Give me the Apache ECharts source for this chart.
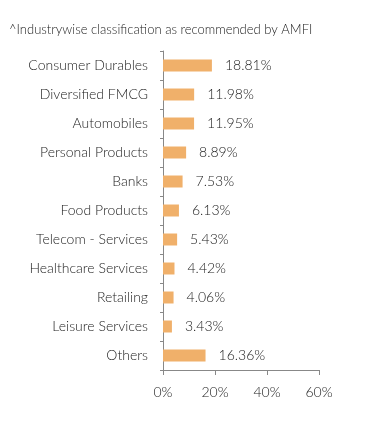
<!DOCTYPE html>
<html><head><meta charset="utf-8">
<script src="https://cdn.jsdelivr.net/npm/echarts@6/dist/echarts.min.js"></script>
<style>html,body{margin:0;padding:0;background:#fff}#c{width:391px;height:424px}</style>
</head><body><div id="c"></div>
<script>
const categories = ["Consumer Durables","Diversified FMCG","Automobiles","Personal Products","Banks","Food Products","Telecom - Services","Healthcare Services","Retailing","Leisure Services","Others"];
const values = [18.81,11.98,11.95,8.89,7.53,6.13,5.43,4.42,4.06,3.43,16.36];
const xTicks = [0,20,40,60];
const titleText = "^Industrywise classification as recommended by AMFI";

const FONT = 'Lato';
const chart = echarts.init(document.getElementById('c'), null, {renderer:'canvas'});
chart.setOption({
  animation:false,
  title:{text:titleText,left:4,top:18,textStyle:{fontFamily:FONT,fontSize:13,fontWeight:300,color:'#222'}},
  grid:{left:163,right:72,top:51,bottom:54,containLabel:false},
  xAxis:{type:'value',min:xTicks[0],max:xTicks[xTicks.length-1],interval:20,
    axisLine:{show:true,lineStyle:{color:'#888'}},
    axisTick:{show:true,length:5,lineStyle:{color:'#888'}},
    splitLine:{show:false},
    axisLabel:{formatter:v=>v+'%',fontFamily:FONT,fontSize:14,fontWeight:300,color:'#222',margin:15}},
  yAxis:{type:'category',data:categories,inverse:true,
    axisLine:{show:true,lineStyle:{color:'#888'}},
    axisTick:{show:true,length:3,lineStyle:{color:'#888'}},
    axisLabel:{fontFamily:FONT,fontSize:14,fontWeight:300,color:'#222',margin:15}},
  series:[{type:'bar',data:values,barWidth:12,itemStyle:{color:'#F0B06A'},
    label:{show:true,position:'right',distance:13,formatter:p=>p.value.toFixed(2)+'%',fontFamily:FONT,fontSize:14,fontWeight:300,color:'#222'}}]
});
</script></body></html>
